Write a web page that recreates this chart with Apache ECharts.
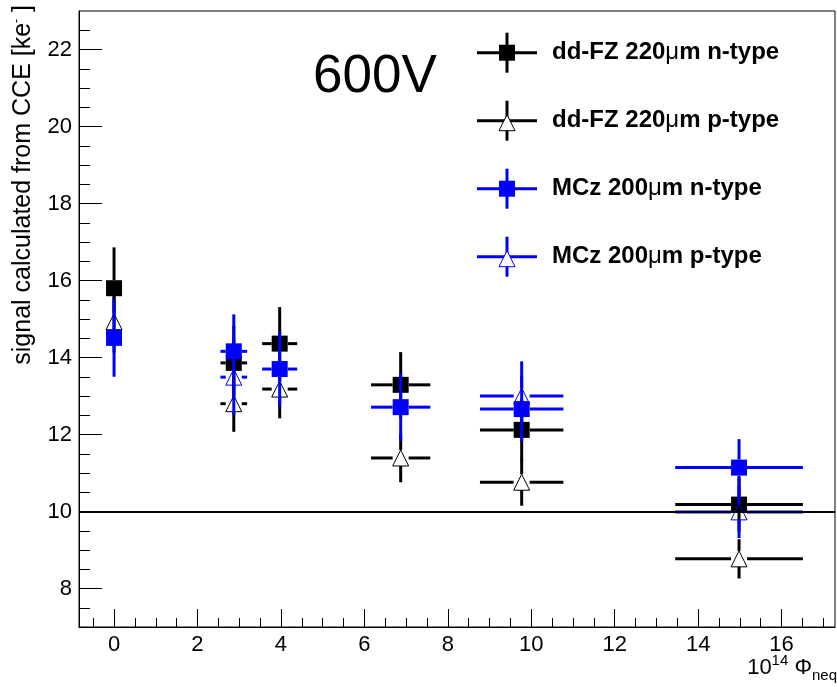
<!DOCTYPE html>
<html><head><meta charset="utf-8">
<script src="https://cdn.jsdelivr.net/npm/echarts@6/dist/echarts.min.js"></script>
<style>html,body{margin:0;padding:0;background:#fff}#c{width:837px;height:687px}</style>
</head><body><div id="c"></div>
<script>
// ---- data ----
const seriesNames = ['dd-FZ 220\u03bcm n-type', 'dd-FZ 220\u03bcm p-type', 'MCz 200\u03bcm n-type', 'MCz 200\u03bcm p-type'];
const fzN_x    = [0, 2.87, 3.97, 6.87, 9.77, 14.98];
const fzN_y    = [15.80, 13.86, 14.36, 13.29, 12.12, 10.18];
const fzN_xerr = [0, 0.32, 0.42, 0.71, 1.0, 1.53];
const fzN_yerr = [1.06, 0.96, 0.95, 0.85, 0.8, 0.7];

const fzP_x    = [0, 2.87, 3.97, 6.87, 9.77, 14.98];
const fzP_y    = [14.93, 12.80, 13.18, 11.39, 10.76, 8.77];
const fzP_xerr = [0, 0.32, 0.42, 0.71, 1.0, 1.53];
const fzP_yerr = [0.8, 0.73, 0.76, 0.63, 0.61, 0.51];

const mczN_x    = [0, 2.87, 3.97, 6.87, 9.77, 14.98];
const mczN_y    = [14.51, 14.16, 13.70, 12.71, 12.66, 11.14];
const mczN_xerr = [0, 0.32, 0.42, 0.71, 1.0, 1.53];
const mczN_yerr = [1.01, 0.96, 0.97, 0.88, 0.85, 0.74];

const mczP_x    = [2.87, 9.77, 14.98];
const mczP_y    = [13.49, 13.0, 9.99];
const mczP_xerr = [0.32, 1.0, 1.53];
const mczP_yerr = [0.98, 0.9, 0.68];

const refLevel = 10;
const xMin = -0.84, xMax = 17.28, yMin = 7, yMax = 23;
const xMajorTicks = [0, 2, 4, 6, 8, 10, 12, 14, 16];
const xMinorTicks = [-0.5, 0.5, 1, 1.5, 2.5, 3, 3.5, 4.5, 5, 5.5, 6.5, 7, 7.5, 8.5, 9, 9.5, 10.5, 11, 11.5, 12.5, 13, 13.5, 14.5, 15, 15.5, 16.5, 17];
const yMajorTicks = [8, 10, 12, 14, 16, 18, 20, 22];
const yMinorTicks = [7.5, 8.5, 9, 9.5, 10.5, 11, 11.5, 12.5, 13, 13.5, 14.5, 15, 15.5, 16.5, 17, 17.5, 18.5, 19, 19.5, 20.5, 21, 21.5, 22.5];
const annotation = '600V';
const yTitle = 'signal calculated from CCE [ke{sup|-} ]';

// ---- chart ----
const FONT = "'Liberation Sans', Arial, Helvetica, sans-serif";
const BLACK = '#000000', BLUE = '#0000ff';
const MS = 8; // half marker size

function zip(xs, ys, xe, ye) { return xs.map((x, i) => [x, ys[i], xe[i], ye[i]]); }

function makeRender(color, marker) {
  return function (params, api) {
    const x = api.value(0), y = api.value(1), xe = api.value(2), ye = api.value(3);
    const c = api.coord([x, y]);
    const top = api.coord([x, y + ye])[1], bot = api.coord([x, y - ye])[1];
    const left = api.coord([x - xe, y])[0], right = api.coord([x + xe, y])[0];
    const ls = { stroke: color, lineWidth: 3 };
    const ch = [];
    if (top < c[1] - MS) ch.push({ type: 'line', shape: { x1: c[0], y1: top, x2: c[0], y2: c[1] - MS }, style: ls });
    if (bot > c[1] + MS) ch.push({ type: 'line', shape: { x1: c[0], y1: c[1] + MS, x2: c[0], y2: bot }, style: ls });
    if (left < c[0] - MS) ch.push({ type: 'line', shape: { x1: left, y1: c[1], x2: c[0] - MS, y2: c[1] }, style: ls });
    if (right > c[0] + MS) ch.push({ type: 'line', shape: { x1: c[0] + MS, y1: c[1], x2: right, y2: c[1] }, style: ls });
    if (marker === 'square') {
      ch.push({ type: 'rect', shape: { x: c[0] - MS, y: c[1] - MS, width: 2 * MS, height: 2 * MS }, style: { fill: color } });
    } else {
      ch.push({ type: 'polygon', shape: { points: [[c[0], c[1] - MS], [c[0] - MS, c[1] + MS], [c[0] + MS, c[1] + MS]] }, style: { fill: 'none', stroke: color, lineWidth: 1 } });
    }
    return { type: 'group', children: ch };
  };
}

function legendEntry(i, color, marker) {
  const cy = 52.7 + i * 68;
  const ch = [
    { type: 'line', shape: { x1: 477, y1: cy, x2: 537, y2: cy }, style: { stroke: color, lineWidth: 3 } },
    { type: 'line', shape: { x1: 507, y1: cy - 20, x2: 507, y2: cy + 20 }, style: { stroke: color, lineWidth: 3 } }
  ];
  if (marker === 'square') ch.push({ type: 'rect', shape: { x: 507 - MS, y: cy - MS, width: 16, height: 16 }, style: { fill: color } });
  else ch.push({ type: 'polygon', shape: { points: [[507, cy - 6], [499, cy + 10], [515, cy + 10]] }, style: { fill: '#fff', stroke: color, lineWidth: 1 } });
  const parts = seriesNames[i].split('\u03bc');
  ch.push({ type: 'text', x: 552, y: cy, style: {
    text: parts[0] + '{mu|\u03bc}' + parts[1], fill: BLACK, font: 'bold 24px ' + FONT,
    verticalAlign: 'middle', align: 'left',
    rich: { mu: { fontFamily: FONT, fontSize: 24, fontWeight: 'normal' } }
  } });
  return { type: 'group', children: ch, z: 100 };
}

const chart = echarts.init(document.getElementById('c'), null, { renderer: 'canvas' });
const axisCommon = { type: 'value', splitLine: { show: false } };
chart.setOption({
  backgroundColor: '#fff',
  animation: false,
  grid: { left: 79, top: 11, right: 2, bottom: 60, show: true, borderColor: BLACK, borderWidth: 1, backgroundColor: 'transparent' },
  xAxis: [
    Object.assign({}, axisCommon, { min: xMin, max: xMax, position: 'bottom',
      axisLine: { show: true, onZero: false, lineStyle: { color: BLACK, width: 1 } },
      axisTick: { show: true, inside: true, length: 18, customValues: xMajorTicks, lineStyle: { color: BLACK } },
      axisLabel: { customValues: xMajorTicks, color: BLACK, fontSize: 22, fontFamily: FONT, margin: 7 } }),
    Object.assign({}, axisCommon, { min: xMin, max: xMax, position: 'bottom',
      axisLine: { show: false, onZero: false },
      axisTick: { show: true, inside: true, length: 9, customValues: xMinorTicks, lineStyle: { color: BLACK } },
      axisLabel: { show: false } })
  ],
  yAxis: [
    Object.assign({}, axisCommon, { min: yMin, max: yMax, position: 'left',
      axisLine: { show: true, onZero: false, lineStyle: { color: BLACK, width: 1 } },
      axisTick: { show: true, inside: true, length: 23, customValues: yMajorTicks, lineStyle: { color: BLACK } },
      axisLabel: { customValues: yMajorTicks, color: BLACK, fontSize: 22, fontFamily: FONT, margin: 7 } }),
    Object.assign({}, axisCommon, { min: yMin, max: yMax, position: 'left',
      axisLine: { show: false, onZero: false },
      axisTick: { show: true, inside: true, length: 11, customValues: yMinorTicks, lineStyle: { color: BLACK } },
      axisLabel: { show: false } })
  ],
  series: [
    { type: 'custom', name: seriesNames[0], renderItem: makeRender(BLACK, 'square'), data: zip(fzN_x, fzN_y, fzN_xerr, fzN_yerr), z: 2,
      markLine: { silent: true, symbol: 'none', label: { show: false }, lineStyle: { color: BLACK, width: 2, type: 'solid' }, data: [{ yAxis: refLevel }], z: 10 } },
    { type: 'custom', name: seriesNames[1], renderItem: makeRender(BLACK, 'triangle'), data: zip(fzP_x, fzP_y, fzP_xerr, fzP_yerr), z: 3 },
    { type: 'custom', name: seriesNames[2], renderItem: makeRender(BLUE, 'square'), data: zip(mczN_x, mczN_y, mczN_xerr, mczN_yerr), z: 4 },
    { type: 'custom', name: seriesNames[3], renderItem: makeRender(BLUE, 'triangle'), data: zip(mczP_x, mczP_y, mczP_xerr, mczP_yerr), z: 5 }
  ],
  graphic: [
    legendEntry(0, BLACK, 'square'),
    legendEntry(1, BLACK, 'triangle'),
    legendEntry(2, BLUE, 'square'),
    legendEntry(3, BLUE, 'triangle'),
    { type: 'text', x: 313, y: 104, style: { text: annotation, fill: BLACK, font: '53px ' + FONT, verticalAlign: 'bottom', align: 'left' }, z: 100 },
    { type: 'text', x: 23, y: 5, rotation: Math.PI / 2, style: {
        text: yTitle, fill: BLACK, font: '25px ' + FONT, align: 'right', verticalAlign: 'middle',
        rich: { sup: { fontSize: 12, fontFamily: FONT, verticalAlign: 'top' } } }, z: 100 },
    { type: 'text', x: 837, y: 668, style: {
        text: '10{sup|14} \u03a6{sub|neq}', fill: BLACK, font: '22px ' + FONT, align: 'right', verticalAlign: 'middle', lineHeight: 30,
        rich: { sup: { fontSize: 15, fontFamily: FONT, verticalAlign: 'top', lineHeight: 30 }, sub: { fontSize: 15, fontFamily: FONT, verticalAlign: 'bottom', lineHeight: 30 } } }, z: 100 }
  ]
});
</script></body></html>
